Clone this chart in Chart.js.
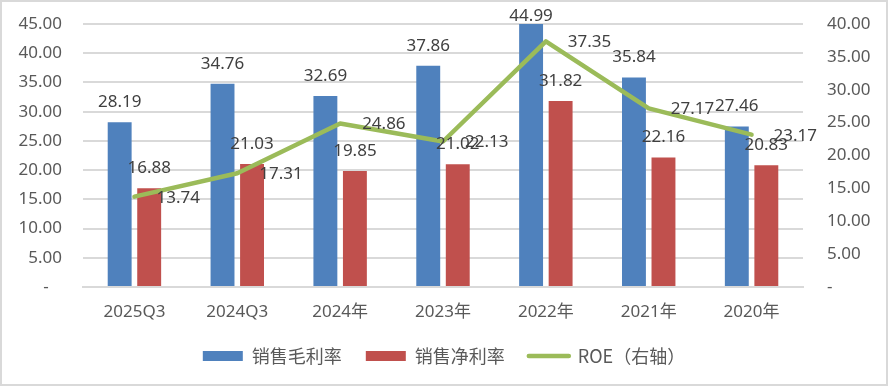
<!DOCTYPE html>
<html>
<head>
<meta charset="utf-8">
<script src="https://cdn.jsdelivr.net/npm/chart.js@4"></script>
<style>
  html, body { margin: 0; padding: 0; background: #fff; }
</style>
</head>
<body>
<canvas id="chart" width="888" height="386"></canvas>
<script>
const categories = ['2025Q3', '2024Q3', '2024年', '2023年', '2022年', '2021年', '2020年'];
const grossMargin = [28.19, 34.76, 32.69, 37.86, 44.99, 35.84, 27.46];
const netMargin = [16.88, 21.03, 19.85, 21.02, 31.82, 22.16, 20.83];
const roe = [13.74, 17.31, 24.86, 22.13, 37.35, 27.17, 23.17];
const seriesNames = ['销售毛利率', '销售净利率', 'ROE（右轴）'];

const fontFamily = "'Noto Sans', 'Noto Sans CJK SC', sans-serif";
const axisColor = '#595959';
const gridColor = '#d9d9d9';

const fmt = (v) => v === 0 ? '-   ' : v.toFixed(2);

// white background + thin grey frame like the excel chart box
const framePlugin = {
    id: 'frame',
    beforeDraw(chart) {
        const ctx = chart.ctx;
        ctx.save();
        ctx.fillStyle = '#fff';
        ctx.fillRect(0, 0, chart.width, chart.height);
        ctx.strokeStyle = gridColor;
        ctx.lineWidth = 2;
        ctx.strokeRect(1, 1, chart.width - 2, chart.height - 2);
        ctx.restore();
    }
};

// value labels: above bars, right of line points
const valueLabels = {
    id: 'valueLabels',
    afterDatasetsDraw(chart) {
        const ctx = chart.ctx;
        ctx.save();
        ctx.font = '17px ' + fontFamily;
        ctx.fillStyle = '#404040';
        ctx.textBaseline = 'middle';
        chart.data.datasets.forEach((ds, i) => {
            const meta = chart.getDatasetMeta(i);
            meta.data.forEach((el, j) => {
                const txt = ds.data[j].toFixed(2);
                if (meta.type === 'line') {
                    ctx.textAlign = 'left';
                    ctx.fillText(txt, el.x + 22, el.y + 1);
                } else {
                    ctx.textAlign = 'center';
                    // keep the tallest label inside the frame
                    ctx.fillText(txt, el.x, Math.max(el.y - 20, 16));
                }
            });
        });
        ctx.restore();
    }
};

const ctx = document.getElementById('chart').getContext('2d');
const chart = new Chart(ctx, {
    type: 'bar',
    data: {
        labels: categories,
        datasets: [
            {
                label: seriesNames[0],
                data: grossMargin,
                backgroundColor: '#4F81BD',
                yAxisID: 'y',
                order: 1,
                categoryPercentage: 0.574,
                barPercentage: 0.81
            },
            {
                label: seriesNames[1],
                data: netMargin,
                backgroundColor: '#C0504D',
                yAxisID: 'y',
                order: 1,
                categoryPercentage: 0.574,
                barPercentage: 0.81
            },
            {
                type: 'line',
                label: seriesNames[2],
                data: roe,
                borderColor: '#9BBB59',
                backgroundColor: '#9BBB59',
                borderWidth: 4.5,
                borderJoinStyle: 'round',
                borderCapStyle: 'round',
                pointRadius: 0,
                tension: 0,
                yAxisID: 'y1',
                order: 0
            }
        ]
    },
    options: {
        responsive: false,
        animation: false,
        devicePixelRatio: 1,
        layout: { padding: { top: 24, left: 0, right: 0, bottom: 11 } },
        plugins: {
            tooltip: { enabled: false },
            legend: {
                position: 'bottom',
                labels: {
                    usePointStyle: true,
                    pointStyleWidth: 40,
                    boxHeight: 10,
                    padding: 24,
                    color: axisColor,
                    font: { size: 18, family: "'Noto Sans CJK SC', 'Noto Sans', sans-serif" },
                    generateLabels(chart) {
                        return chart.data.datasets.map((ds, i) => {
                            const isLine = ds.type === 'line';
                            return {
                                text: ds.label,
                                datasetIndex: i,
                                fillStyle: isLine ? ds.borderColor : ds.backgroundColor,
                                strokeStyle: isLine ? ds.borderColor : ds.backgroundColor,
                                lineWidth: isLine ? 4.5 : 0,
                                lineCap: 'round',
                                pointStyle: isLine ? 'line' : 'rect',
                                fontColor: axisColor,
                                hidden: false
                            };
                        });
                    }
                }
            }
        },
        scales: {
            x: {
                grid: { display: false, drawTicks: false },
                border: { display: true, color: gridColor, width: 2 },
                ticks: { color: axisColor, font: { size: 17, family: fontFamily }, padding: 15, maxRotation: 0 },
                afterFit(s) { s.height = 36; }
            },
            y: {
                min: 0,
                max: 45,
                // invisible tick marks give the label gap without padding the top
                grid: { color: gridColor, lineWidth: 2, drawTicks: true, tickLength: 21, tickColor: 'rgba(0,0,0,0)' },
                border: { display: false },
                ticks: { stepSize: 5, callback: fmt, color: axisColor, font: { size: 17, family: fontFamily }, padding: 0 },
                afterFit(s) { s.width = 83; }
            },
            y1: {
                position: 'right',
                min: 0,
                max: 40,
                grid: { display: false, drawTicks: true, tickLength: 24, tickColor: 'rgba(0,0,0,0)' },
                border: { display: false },
                ticks: { stepSize: 5, callback: (v) => v === 0 ? '-' : v.toFixed(2), color: axisColor, font: { size: 17, family: fontFamily }, padding: 0 },
                afterFit(s) { s.width = 85; }
            }
        }
    },
    plugins: [framePlugin, valueLabels]
});
</script>
</body>
</html>
